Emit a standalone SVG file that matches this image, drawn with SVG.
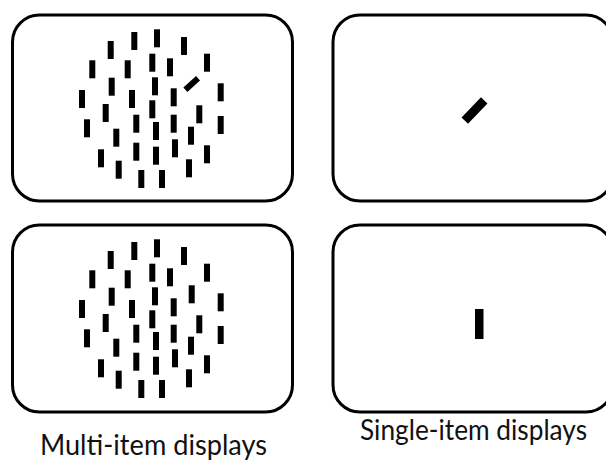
<svg xmlns="http://www.w3.org/2000/svg" xmlns:xlink="http://www.w3.org/1999/xlink" width="606" height="461" viewBox="0 0 606 461">
<style>
.panel{fill:#fff;stroke:#000;stroke-width:3}
.bar{fill:#000}
.label{font-family:Lato,"Liberation Sans",sans-serif;font-size:29px;fill:#111;text-anchor:middle}
</style>
<defs>
<g id="field">
<rect class="bar" x="107.7" y="41" width="6" height="18"/>
<rect class="bar" x="131.3" y="32" width="6" height="18"/>
<rect class="bar" x="154" y="29.3" width="6" height="18"/>
<rect class="bar" x="181" y="37" width="6" height="18"/>
<rect class="bar" x="89.3" y="60.3" width="6" height="18"/>
<rect class="bar" x="124.7" y="60.3" width="6" height="18"/>
<rect class="bar" x="149.3" y="53.7" width="6" height="18"/>
<rect class="bar" x="167" y="58.3" width="6" height="18"/>
<rect class="bar" x="204" y="53.7" width="6" height="18"/>
<rect class="bar" x="108.7" y="77.7" width="6" height="18"/>
<rect class="bar" x="152" y="77.3" width="6" height="18"/>
<rect class="bar" x="79" y="90" width="6" height="18"/>
<rect class="bar" x="129" y="90" width="6" height="18"/>
<rect class="bar" x="170.7" y="88.3" width="6" height="18"/>
<rect class="bar" x="217.7" y="83.3" width="6" height="18"/>
<rect class="bar" x="102.7" y="104" width="6" height="18"/>
<rect class="bar" x="149.3" y="100.3" width="6" height="18"/>
<rect class="bar" x="196.3" y="105.3" width="6" height="18"/>
<rect class="bar" x="84" y="119.3" width="6" height="18"/>
<rect class="bar" x="133.3" y="114.7" width="6" height="18"/>
<rect class="bar" x="153" y="122" width="6" height="18"/>
<rect class="bar" x="170.7" y="114.7" width="6" height="18"/>
<rect class="bar" x="217.7" y="116" width="6" height="18"/>
<rect class="bar" x="113.3" y="128.7" width="6" height="18"/>
<rect class="bar" x="188" y="126.7" width="6" height="18"/>
<rect class="bar" x="133.3" y="142.7" width="6" height="18"/>
<rect class="bar" x="153" y="146.7" width="6" height="18"/>
<rect class="bar" x="172" y="139.3" width="6" height="18"/>
<rect class="bar" x="204" y="145.3" width="6" height="18"/>
<rect class="bar" x="98" y="149.3" width="6" height="18"/>
<rect class="bar" x="115.7" y="160.7" width="6" height="18"/>
<rect class="bar" x="186" y="159.3" width="6" height="18"/>
<rect class="bar" x="138.3" y="170" width="6" height="18"/>
<rect class="bar" x="159" y="170" width="6" height="18"/>
</g>
</defs>
<g id="multi-target">
<rect class="panel" x="12.5" y="15" width="280" height="186" rx="27"/>
<use xlink:href="#field"/>
<rect class="bar" x="-3" y="-8.5" width="6" height="17" transform="translate(191.7 84) rotate(48)"/>
</g>
<g id="single-target">
<rect class="panel" x="333" y="15" width="280" height="186" rx="27"/>
<rect class="bar" x="-4.5" y="-14" width="9" height="28" transform="translate(474.5 110.5) rotate(44)"/>
</g>
<g id="multi-nontarget">
<rect class="panel" x="12.5" y="225" width="280" height="187" rx="27"/>
<g transform="translate(0 210)">
<use xlink:href="#field"/>
<rect class="bar" x="188.7" y="75.3" width="6" height="18"/>
</g>
</g>
<g id="single-nontarget">
<rect class="panel" x="333" y="225" width="280" height="187" rx="27"/>
<rect class="bar" x="475" y="309" width="8.5" height="30"/>
</g>
<g id="connectors"/>
<text class="label" x="153.5" y="455" textLength="227" lengthAdjust="spacingAndGlyphs">Multi-item displays</text>
<text class="label" x="473.5" y="440" textLength="227" lengthAdjust="spacingAndGlyphs">Single-item displays</text>
</svg>
